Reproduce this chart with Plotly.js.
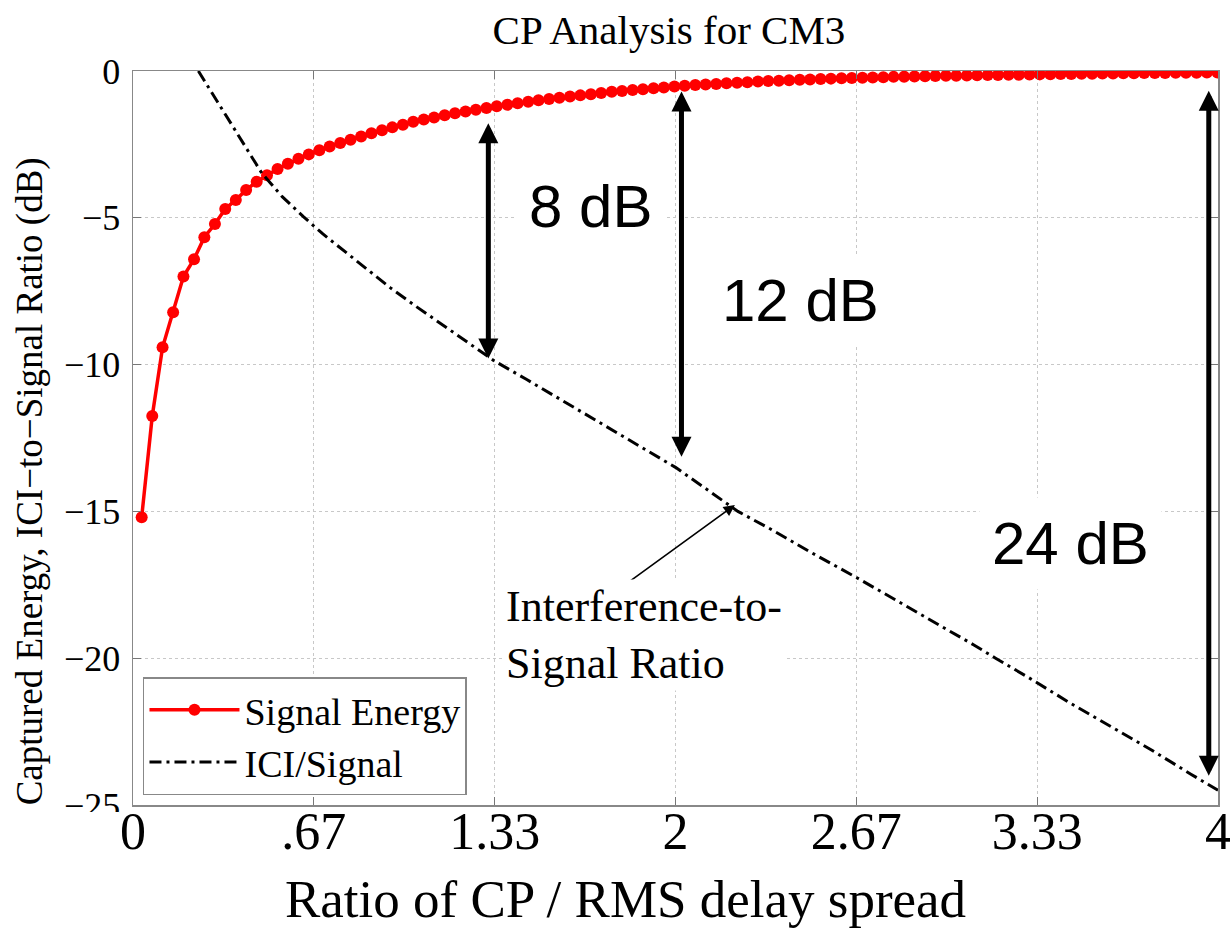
<!DOCTYPE html>
<html>
<head>
<meta charset="utf-8">
<script src="https://cdn.plot.ly/plotly-3.0.1.min.js"></script>
<style>html,body{margin:0;padding:0;background:#fff;}#chart{width:1230px;height:932px;}</style>
</head>
<body>
<div id="chart"></div>
<script>
// ---- data ----
const signalX = [0.032,0.071,0.109,0.148,0.186,0.225,0.263,0.302,0.340,0.379,0.417,0.456,0.494,0.533,0.571,0.610,0.648,0.687,0.725,0.764,0.802,0.841,0.879,0.918,0.956,0.995,1.033,1.072,1.110,1.149,1.187,1.226,1.264,1.303,1.341,1.380,1.418,1.457,1.495,1.534,1.572,1.611,1.649,1.688,1.726,1.765,1.803,1.842,1.880,1.919,1.957,1.996,2.034,2.073,2.111,2.150,2.188,2.227,2.265,2.304,2.342,2.381,2.419,2.458,2.496,2.535,2.573,2.612,2.650,2.689,2.727,2.766,2.804,2.843,2.881,2.920,2.958,2.997,3.035,3.074,3.112,3.151,3.189,3.228,3.266,3.305,3.343,3.382,3.420,3.459,3.497,3.536,3.574,3.613,3.651,3.690,3.728,3.767,3.805,3.844,3.882,3.921,3.959,3.998];
const signalY = [-15.2,-11.75,-9.41,-8.22,-7.0,-6.41,-5.66,-5.21,-4.70,-4.39,-4.05,-3.77,
  -3.55,-3.34,-3.16,-2.99,-2.84,-2.70,-2.57,-2.45,-2.34,-2.23,-2.12,-2.02,-1.92,-1.83,
  -1.73,-1.65,-1.58,-1.51,-1.44,-1.38,-1.32,-1.26,-1.20,-1.15,-1.10,-1.05,-1.00,-0.95,-0.91,-0.87,-0.83,-0.79,-0.75,-0.71,-0.68,-0.65,-0.62,-0.59,-0.56,-0.53,
  -0.505,-0.48,-0.46,-0.44,-0.42,-0.40,-0.38,-0.36,-0.34,-0.33,-0.315,-0.30,-0.29,-0.275,-0.26,-0.25,-0.24,-0.23,-0.22,-0.21,-0.20,-0.195,-0.19,-0.18,-0.17,
  -0.165,-0.16,-0.15,-0.145,-0.14,-0.135,-0.13,-0.125,-0.12,-0.115,-0.11,-0.105,-0.10,-0.096,-0.092,-0.088,-0.084,-0.08,-0.076,-0.072,-0.068,-0.065,-0.062,-0.059,-0.056,-0.053,-0.05];
const iciX = [0.241,0.30,0.36,0.42,0.475,0.55,0.628,0.70,0.80,0.90,0.948,1.05,1.15,1.25,1.333,1.45,1.55,1.65,1.75,1.85,2.0,2.1,2.23,2.35,2.5,2.667,2.8,2.95,3.1,3.18,3.3,3.45,3.6,3.75,3.9,4.0];
const iciY = [0,-0.88,-1.78,-2.65,-3.48,-4.28,-4.96,-5.55,-6.3,-7.03,-7.38,-8.06,-8.7,-9.33,-9.88,-10.5,-11.05,-11.6,-12.15,-12.7,-13.5,-14.15,-15.0,-15.6,-16.4,-17.25,-17.95,-18.75,-19.55,-20.0,-20.65,-21.5,-22.3,-23.1,-23.95,-24.5];
const xTickVals = [0, 0.6667, 1.3333, 2, 2.6667, 3.3333, 4];
const xTickText = ['0', '.67', '1.33', '2', '2.67', '3.33', '4'];
const yTickVals = [0, -5, -10, -15, -20, -25];
const gapLabels = ['8 dB', '12 dB', '24 dB'];
const gapX = [1.31, 2.022, 3.966];
const gapTop = [-1.73, -0.65, -0.62];
const gapBottom = [-9.79, -13.14, -24.0];
const gapLabelX = [1.688, 2.459, 3.458];
const gapLabelY = [-4.63, -7.8, -16.08];
const iciNote = 'Interference-to-<br>Signal Ratio';
const xTitle = 'Ratio of CP / RMS delay spread';
const yTitle = 'Captured Energy, ICI−to−Signal Ratio (dB)';

const serif = 'Liberation Serif, Times New Roman, serif';
const sans = 'Liberation Sans, Arial, sans-serif';

const traces = [
  {x: signalX, y: signalY, type: 'scatter', mode: 'lines+markers', name: 'Signal Energy',
   line: {color: '#ff0000', width: 3.5}, marker: {color: '#ff0000', size: 12, symbol: 'circle'}},
  {x: iciX, y: iciY, type: 'scatter', mode: 'lines', name: 'ICI/Signal',
   line: {color: '#000000', width: 3, dash: '12px,5px,3px,5px'}}
];

const annotations = [];
for (let i = 0; i < gapLabels.length; i++) {
  annotations.push({x: gapX[i], y: gapBottom[i], ax: gapX[i], ay: gapTop[i], axref: 'x', ayref: 'y',
    xref: 'x', yref: 'y', text: '', showarrow: true, arrowside: 'end+start',
    arrowhead: 2, startarrowhead: 2, arrowsize: 0.8, startarrowsize: 0.8, arrowwidth: 5, arrowcolor: '#000', standoff: 0, startstandoff: 0});
  annotations.push({x: gapLabelX[i], y: gapLabelY[i], xref: 'x', yref: 'y', text: gapLabels[i], showarrow: false,
    font: {family: sans, size: 60, color: '#000'}, bgcolor: '#ffffff', borderpad: 12, xanchor: 'center', yanchor: 'middle'});
}
annotations.push({x: 2.219, y: -14.78, ax: 1.814, ay: -17.5, axref: 'x', ayref: 'y', xref: 'x', yref: 'y', text: '',
  showarrow: true, arrowhead: 2, arrowsize: 1.4, arrowwidth: 1.6, arrowcolor: '#000', standoff: 0});
annotations.push({x: 1.364, y: -19.21, xref: 'x', yref: 'y', text: iciNote, showarrow: false, align: 'left',
  xanchor: 'left', yanchor: 'middle', font: {family: serif, size: 44, color: '#000'}, bgcolor: '#ffffff', borderpad: 2});
// axis titles (placed like the reference, which is off-centre)
annotations.push({x: 0.4535, y: -0.128, xref: 'paper', yref: 'paper', text: xTitle, showarrow: false,
  xanchor: 'center', yanchor: 'middle', font: {family: serif, size: 53, color: '#000'}});
annotations.push({x: -0.0949, y: 0.441, xref: 'paper', yref: 'paper', text: yTitle, showarrow: false, textangle: -90,
  xanchor: 'center', yanchor: 'middle', font: {family: serif, size: 37, color: '#000'}});

const layout = {
  width: 1230, height: 932,
  margin: {l: 133, r: 12, t: 71, b: 127},
  paper_bgcolor: '#ffffff', plot_bgcolor: '#ffffff',
  title: {text: 'CP Analysis for CM3', font: {family: serif, size: 41, color: '#000'},
          x: 0.494, xref: 'paper', xanchor: 'center', y: 0.968, yref: 'container', yanchor: 'middle'},
  xaxis: {range: [0, 4], tickvals: xTickVals, ticktext: xTickText, ticks: 'inside', ticklen: 8, tickcolor: '#777',
          showline: true, linecolor: '#888', linewidth: 1.5, mirror: 'ticks', showgrid: true, gridcolor: '#c8c8c8',
          griddash: 'dot', gridwidth: 1, zeroline: false, tickfont: {family: serif, size: 52, color: '#000'},
          ticklabeloverflow: 'allow', ticklabelstandoff: -20},
  yaxis: {range: [-25, 0], tickvals: yTickVals, ticks: 'inside', ticklen: 8, tickcolor: '#777',
          showline: true, linecolor: '#888', linewidth: 1.5, mirror: 'ticks', showgrid: true, gridcolor: '#c8c8c8',
          griddash: 'dot', gridwidth: 1, zeroline: false, tickfont: {family: serif, size: 36, color: '#000'},
          ticklabelstandoff: 4},
  legend: {x: 0.0092, y: 0.0136, xanchor: 'left', yanchor: 'bottom', bgcolor: '#ffffff', bordercolor: '#888',
           borderwidth: 1.5, font: {family: serif, size: 38, color: '#000'}, itemwidth: 90, tracegroupgap: 0},
  annotations: annotations,
  shapes: [{type: 'rect', xref: 'paper', yref: 'paper', x0: -0.0857, x1: -0.0129, y0: -0.0613, y1: -0.0095,
            fillcolor: '#ffffff', line: {width: 0}, layer: 'above'}],
  showlegend: true
};

Plotly.newPlot('chart', traces, layout, {displayModeBar: false, staticPlot: true});
</script>
</body>
</html>
